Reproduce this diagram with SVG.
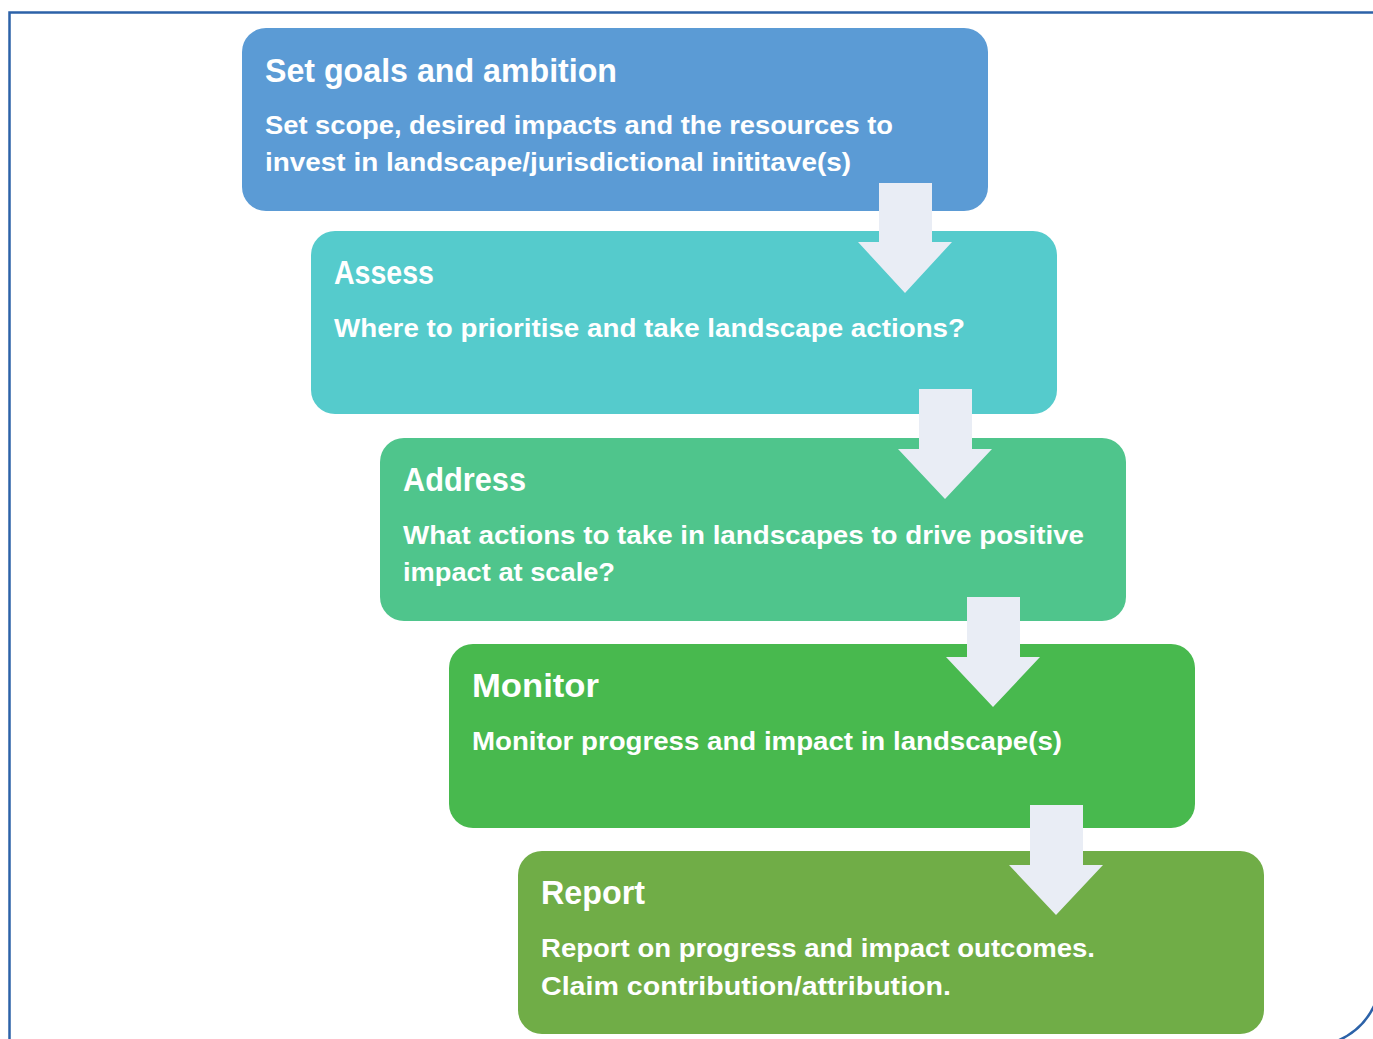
<svg xmlns="http://www.w3.org/2000/svg" width="1373" height="1039" viewBox="0 0 1373 1039">
  <style>
    .frame { fill: none; stroke: #2c62a8; stroke-width: 2.5; }
    .step { stroke: none; }
    .title { font-family: "Liberation Sans", Arial, sans-serif; font-weight: bold; font-size: 33px; fill: #ffffff; }
    .body { font-family: "Liberation Sans", Arial, sans-serif; font-weight: bold; font-size: 25px; fill: #ffffff; }
    .arrow { fill: #e9edf5; stroke: none; }
  </style>

  <rect width="1373" height="1039" fill="#ffffff"/>

  <!-- outer frame -->
  <g id="frame">
    <path class="frame" d="M 1375 12.5 H 9.5 V 1041"/>
    <path class="frame" d="M 1337 1041 A 72 72 0 0 0 1375 1004"/>
  </g>

  <!-- step boxes -->
  <g id="step-goals">
    <rect class="step" x="242" y="28" width="746" height="183" rx="24" fill="#5b9bd5"/>
    <text class="title" x="265" y="82" textLength="352" lengthAdjust="spacingAndGlyphs">Set goals and ambition</text>
    <text class="body" x="265" y="134" textLength="628" lengthAdjust="spacingAndGlyphs">Set scope, desired impacts and the resources to</text>
    <text class="body" x="265" y="171" textLength="586" lengthAdjust="spacingAndGlyphs">invest in landscape/jurisdictional inititave(s)</text>
  </g>

  <g id="step-assess">
    <rect class="step" x="311" y="231" width="746" height="183" rx="24" fill="#55cbcc"/>
    <text class="title" x="334" y="284" textLength="100" lengthAdjust="spacingAndGlyphs">Assess</text>
    <text class="body" x="334" y="337" textLength="631" lengthAdjust="spacingAndGlyphs">Where to prioritise and take landscape actions?</text>
  </g>

  <g id="step-address">
    <rect class="step" x="380" y="438" width="746" height="183" rx="24" fill="#4fc58c"/>
    <text class="title" x="403" y="491" textLength="123" lengthAdjust="spacingAndGlyphs">Address</text>
    <text class="body" x="403" y="544" textLength="681" lengthAdjust="spacingAndGlyphs">What actions to take in landscapes to drive positive</text>
    <text class="body" x="403" y="581" textLength="212" lengthAdjust="spacingAndGlyphs">impact at scale?</text>
  </g>

  <g id="step-monitor">
    <rect class="step" x="449" y="644" width="746" height="184" rx="24" fill="#48b94e"/>
    <text class="title" x="472" y="697" textLength="127" lengthAdjust="spacingAndGlyphs">Monitor</text>
    <text class="body" x="472" y="750" textLength="590" lengthAdjust="spacingAndGlyphs">Monitor progress and impact in landscape(s)</text>
  </g>

  <g id="step-report">
    <rect class="step" x="518" y="851" width="746" height="183" rx="24" fill="#70ad47"/>
    <text class="title" x="541" y="904" textLength="104" lengthAdjust="spacingAndGlyphs">Report</text>
    <text class="body" x="541" y="957" textLength="554" lengthAdjust="spacingAndGlyphs">Report on progress and impact outcomes.</text>
    <text class="body" x="541" y="995" textLength="410" lengthAdjust="spacingAndGlyphs">Claim contribution/attribution.</text>
  </g>

  <!-- connectors: block arrows between steps -->
  <g id="connectors">
    <path class="arrow" d="M 879 183 H 932 V 242 H 952 L 905 293 L 858 242 H 879 Z"/>
    <path class="arrow" d="M 919 389 H 972 V 449 H 992 L 945 499 L 898 449 H 919 Z"/>
    <path class="arrow" d="M 967 597 H 1020 V 657 H 1040 L 993 707 L 946 657 H 967 Z"/>
    <path class="arrow" d="M 1030 805 H 1083 V 865 H 1103 L 1056 915 L 1009 865 H 1030 Z"/>
  </g>
</svg>
